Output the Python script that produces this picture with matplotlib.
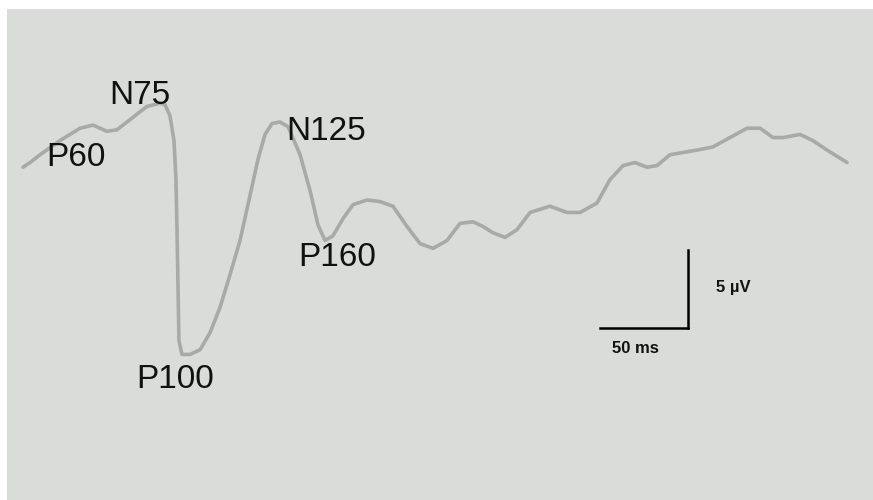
import numpy as np
import matplotlib
matplotlib.use('Agg')
import matplotlib.pyplot as plt

matplotlib.rcParams['font.family'] = ['Liberation Sans', 'DejaVu Sans']

''' 1. 数据：时间 (ms) 与幅值 (µV, 负向朝上) '''
time_ms = [0, 4.0, 9.7, 21.0, 32.4, 39.8, 47.7, 53.4, 62.5, 70.5, 77.8, 80.7, 83.5,
           85.8, 86.9, 87.5, 88.1, 88.6, 90.3, 94.9, 100.6, 106.3, 111.9, 117.6,
           123.3, 129.0, 133.5, 137.5, 141.5, 146.0, 150.6, 157.4, 163.1, 167.6,
           171.6, 176.1, 181.8, 187.5, 195.5, 202.8, 210.2, 218.2, 225.6, 233.0,
           240.9, 248.3, 255.7, 261.4, 267.0, 273.9, 280.7, 288.1, 299.4, 309.1,
           316.5, 326.1, 333.5, 340.9, 347.7, 354.5, 360.2, 367.6, 383.0, 392.0,
           401.7, 411.4, 418.8, 426.1, 431.8, 441.5, 448.9, 456.8, 468.2]
amp_uv = [-2.1, -2.4, -2.9, -3.8, -4.6, -4.8, -4.4, -4.5, -5.3, -6.0, -6.2, -6.1, -5.4,
          -3.8, -1.3, 1.9, 5.8, 9.0, 9.9, 9.9, 9.6, 8.5, 6.9, 4.8,
          2.6, -0.3, -2.6, -4.2, -4.9, -5.0, -4.7, -2.9, -0.6, 1.6,
          2.6, 2.3, 1.2, 0.3, 0.0, 0.1, 0.4, 1.7, 2.8, 3.1,
          2.6, 1.5, 1.4, 1.7, 2.1, 2.4, 1.9, 0.8, 0.4, 0.8,
          0.8, 0.2, -1.3, -2.2, -2.4, -2.1, -2.2, -2.9, -3.2, -3.4,
          -4.0, -4.6, -4.6, -4.0, -4.0, -4.2, -3.8, -3.2, -2.4]

# 波峰标注
peak_names = ['P60', 'N75', 'P100', 'N125', 'P160']
peak_t = [30.1, 66.5, 86.4, 172.2, 178.4]
peak_v = [-2.7, -6.7, 11.5, -4.4, 3.7]

# 标尺
bar_ms = 50
bar_uv = 5
bar_label_t = '50 ms'
bar_label_v = '5 µV'

''' 2. 画图 '''
fig = plt.figure(figsize=(8.73, 5.0), dpi=100, facecolor='white')
ax = fig.add_axes([7 / 873, 0, 866 / 873, 491 / 500])
ax.set_facecolor('#dadcda')
for s in ax.spines.values():
    s.set_visible(False)
ax.set_xticks([])
ax.set_yticks([])

ax.plot(time_ms, amp_uv, color='#a8aaa8', linewidth=2.6,
        solid_joinstyle='round', solid_capstyle='round')

for name, t, v in zip(peak_names, peak_t, peak_v):
    ax.text(t, v, name, fontsize=24, color='#111111', ha='center', va='center')

# 标尺 (角点在右下)
corner_t, corner_v = 377.8, 8.2
ax.plot([corner_t - bar_ms, corner_t], [corner_v, corner_v], color='black', linewidth=1.8)
ax.plot([corner_t, corner_t], [corner_v, corner_v - bar_uv], color='black', linewidth=1.8)
ax.text(corner_t + 26, corner_v - 2.6, bar_label_v, fontsize=12, fontweight='bold',
        ha='center', va='center', color='#111111')
ax.text(corner_t - 30, corner_v + 1.3, bar_label_t, fontsize=12, fontweight='bold',
        ha='center', va='center', color='#111111')

ax.set_xlim(-9.09, 482.95)
ax.set_ylim(19.23, -12.24)   # 负向朝上

fig.savefig('out.png', dpi=100, facecolor='white')
